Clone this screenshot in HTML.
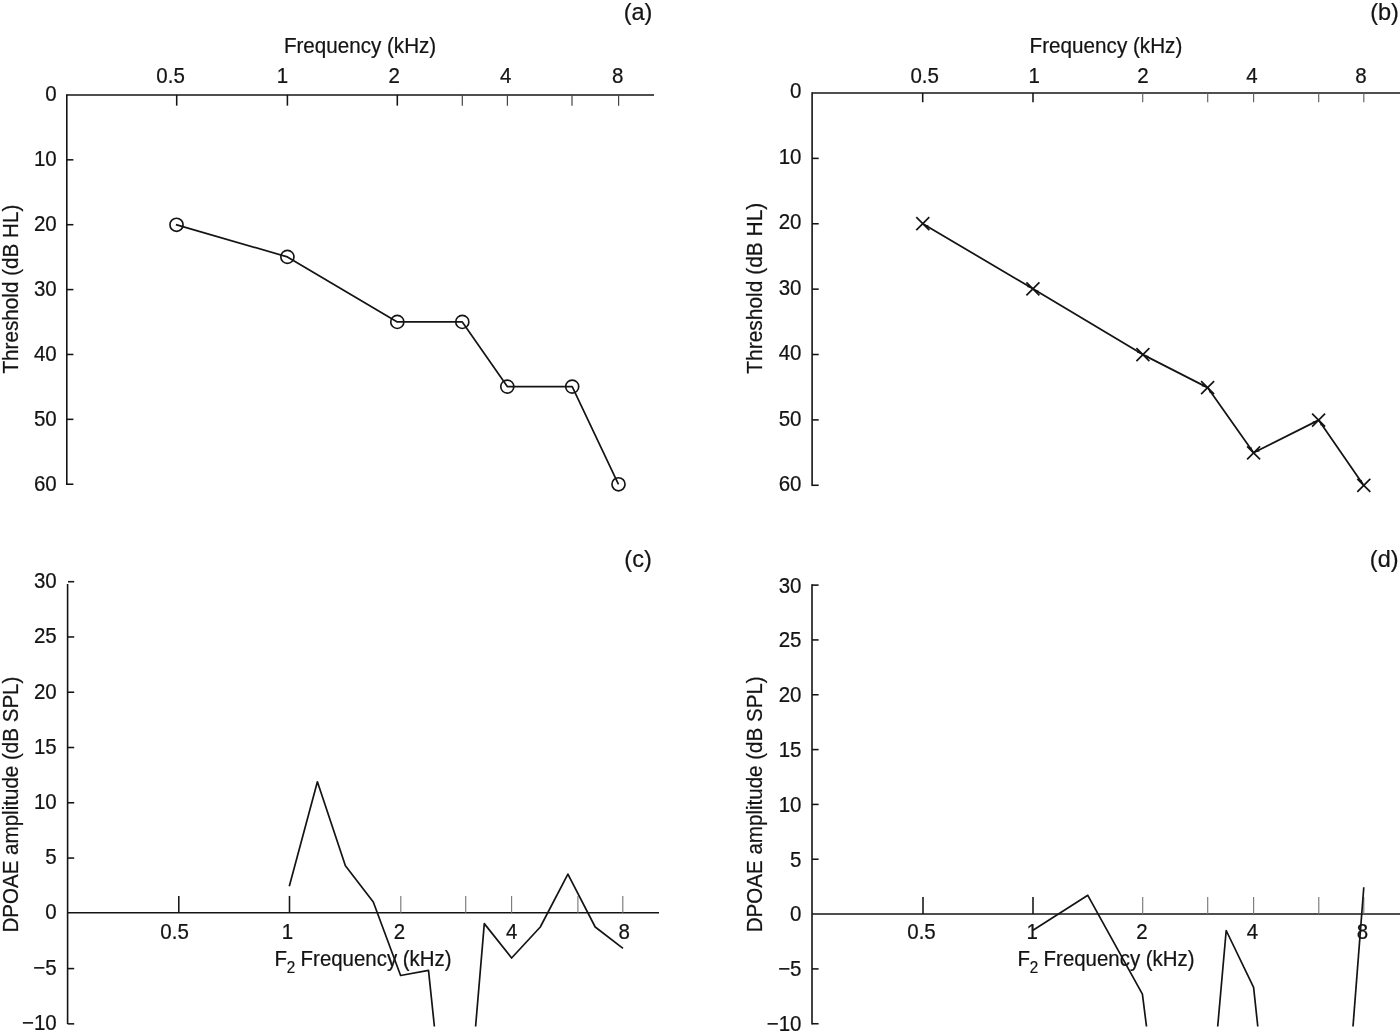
<!DOCTYPE html>
<html lang="en"><head><meta charset="utf-8"><title>Audiograms and DPOAE amplitude</title>
<style>
html,body{margin:0;padding:0;background:#fff;}
body{width:1400px;height:1036px;overflow:hidden;}
svg{display:block;}
svg text{font-family:"Liberation Sans",Arial,Helvetica,sans-serif;fill:#141414;stroke:#141414;stroke-width:0.22px;}
</style></head><body>
<svg width="1400" height="1036" viewBox="0 0 1400 1036">
<rect width="1400" height="1036" fill="#ffffff"/>
<line x1="66.8" y1="94.15" x2="66.8" y2="484.90000000000003" stroke="#141414" stroke-width="1.6" />
<line x1="66.8" y1="94.95" x2="654" y2="94.95" stroke="#141414" stroke-width="1.6" />
<line x1="176.7" y1="94.95" x2="176.7" y2="105.65" stroke="#141414" stroke-width="1.55" />
<line x1="287.4" y1="94.95" x2="287.4" y2="105.65" stroke="#141414" stroke-width="1.55" />
<line x1="397.3" y1="94.95" x2="397.3" y2="105.65" stroke="#141414" stroke-width="1.55" />
<line x1="462.3" y1="94.95" x2="462.3" y2="105.65" stroke="#444" stroke-width="1.2" />
<line x1="507.4" y1="94.95" x2="507.4" y2="105.65" stroke="#444" stroke-width="1.2" />
<line x1="572.0" y1="94.95" x2="572.0" y2="105.65" stroke="#444" stroke-width="1.2" />
<line x1="618.6" y1="94.95" x2="618.6" y2="105.65" stroke="#444" stroke-width="1.2" />
<line x1="66.8" y1="159.82999999999998" x2="73.39999999999999" y2="159.82999999999998" stroke="#141414" stroke-width="1.55" />
<line x1="66.8" y1="224.70999999999998" x2="73.39999999999999" y2="224.70999999999998" stroke="#141414" stroke-width="1.55" />
<line x1="66.8" y1="289.59" x2="73.39999999999999" y2="289.59" stroke="#141414" stroke-width="1.55" />
<line x1="66.8" y1="354.46999999999997" x2="73.39999999999999" y2="354.46999999999997" stroke="#141414" stroke-width="1.55" />
<line x1="66.8" y1="419.34999999999997" x2="73.39999999999999" y2="419.34999999999997" stroke="#141414" stroke-width="1.55" />
<line x1="66.8" y1="484.22999999999996" x2="73.39999999999999" y2="484.22999999999996" stroke="#141414" stroke-width="1.55" />
<text transform="translate(56.7 101.30000000000001) scale(1 1.05)" font-size="20.5" text-anchor="end" >0</text>
<text transform="translate(56.7 166.3) scale(1 1.05)" font-size="20.5" text-anchor="end" >10</text>
<text transform="translate(56.7 231.3) scale(1 1.05)" font-size="20.5" text-anchor="end" >20</text>
<text transform="translate(56.7 296.29999999999995) scale(1 1.05)" font-size="20.5" text-anchor="end" >30</text>
<text transform="translate(56.7 361.29999999999995) scale(1 1.05)" font-size="20.5" text-anchor="end" >40</text>
<text transform="translate(56.7 426.29999999999995) scale(1 1.05)" font-size="20.5" text-anchor="end" >50</text>
<text transform="translate(56.7 491.29999999999995) scale(1 1.05)" font-size="20.5" text-anchor="end" >60</text>
<text transform="translate(170.6 83.1) scale(1 1.05)" font-size="20.5" text-anchor="middle" >0.5</text>
<text transform="translate(282.4 83.1) scale(1 1.05)" font-size="20.5" text-anchor="middle" >1</text>
<text transform="translate(394.1 83.1) scale(1 1.05)" font-size="20.5" text-anchor="middle" >2</text>
<text transform="translate(505.7 83.1) scale(1 1.05)" font-size="20.5" text-anchor="middle" >4</text>
<text transform="translate(617.65 83.1) scale(1 1.05)" font-size="20.5" text-anchor="middle" >8</text>
<text transform="translate(283.9 52.6) scale(1 1.05)" font-size="20.5" text-anchor="start" textLength="152.3" lengthAdjust="spacingAndGlyphs">Frequency (kHz)</text>
<text transform="translate(638 20) scale(1 1.05)" font-size="23.5" text-anchor="middle" >(a)</text>
<text transform="translate(17.6 373.6) rotate(-90) scale(1 1.05)" font-size="20.5" textLength="169" lengthAdjust="spacingAndGlyphs">Threshold (dB HL)</text>
<polyline fill="none" stroke="#141414" stroke-width="1.7" stroke-linejoin="round" points="175.9,224.6 287.4,256.9 397.3,321.9 462.3,321.9 507.3,386.6 572.2,386.6 618.5,484.3"/>
<circle cx="176.5" cy="224.8" r="6.55" fill="none" stroke="#141414" stroke-width="1.65"/>
<circle cx="287.4" cy="256.9" r="6.55" fill="none" stroke="#141414" stroke-width="1.65"/>
<circle cx="397.3" cy="321.9" r="6.55" fill="none" stroke="#141414" stroke-width="1.65"/>
<circle cx="462.3" cy="321.9" r="6.55" fill="none" stroke="#141414" stroke-width="1.65"/>
<circle cx="507.3" cy="386.6" r="6.55" fill="none" stroke="#141414" stroke-width="1.65"/>
<circle cx="572.2" cy="386.6" r="6.55" fill="none" stroke="#141414" stroke-width="1.65"/>
<circle cx="618.5" cy="484.3" r="6.55" fill="none" stroke="#141414" stroke-width="1.65"/>
<line x1="812.1" y1="92.2" x2="812.1" y2="486.1" stroke="#141414" stroke-width="1.6" />
<line x1="812.1" y1="93.0" x2="1400" y2="93.0" stroke="#141414" stroke-width="1.6" />
<line x1="922.7" y1="93.0" x2="922.7" y2="102.2" stroke="#141414" stroke-width="1.55" />
<line x1="1033.0" y1="93.0" x2="1033.0" y2="102.2" stroke="#141414" stroke-width="1.55" />
<line x1="1142.7" y1="93.0" x2="1142.7" y2="102.2" stroke="#606060" stroke-width="1.15" />
<line x1="1207.7" y1="93.0" x2="1207.7" y2="102.2" stroke="#606060" stroke-width="1.15" />
<line x1="1253.6" y1="93.0" x2="1253.6" y2="102.2" stroke="#606060" stroke-width="1.15" />
<line x1="1318.7" y1="93.0" x2="1318.7" y2="102.2" stroke="#606060" stroke-width="1.15" />
<line x1="1363.8" y1="93.0" x2="1363.8" y2="102.2" stroke="#606060" stroke-width="1.15" />
<line x1="812.1" y1="158.38" x2="818.7" y2="158.38" stroke="#141414" stroke-width="1.55" />
<line x1="812.1" y1="223.76" x2="818.7" y2="223.76" stroke="#141414" stroke-width="1.55" />
<line x1="812.1" y1="289.14" x2="818.7" y2="289.14" stroke="#141414" stroke-width="1.55" />
<line x1="812.1" y1="354.52" x2="818.7" y2="354.52" stroke="#141414" stroke-width="1.55" />
<line x1="812.1" y1="419.9" x2="818.7" y2="419.9" stroke="#141414" stroke-width="1.55" />
<line x1="812.1" y1="485.28" x2="818.7" y2="485.28" stroke="#141414" stroke-width="1.55" />
<text transform="translate(801.5 98.10000000000001) scale(1 1.05)" font-size="20.5" text-anchor="end" >0</text>
<text transform="translate(801.5 163.65) scale(1 1.05)" font-size="20.5" text-anchor="end" >10</text>
<text transform="translate(801.5 229.20000000000002) scale(1 1.05)" font-size="20.5" text-anchor="end" >20</text>
<text transform="translate(801.5 294.74999999999994) scale(1 1.05)" font-size="20.5" text-anchor="end" >30</text>
<text transform="translate(801.5 360.29999999999995) scale(1 1.05)" font-size="20.5" text-anchor="end" >40</text>
<text transform="translate(801.5 425.84999999999997) scale(1 1.05)" font-size="20.5" text-anchor="end" >50</text>
<text transform="translate(801.5 491.3999999999999) scale(1 1.05)" font-size="20.5" text-anchor="end" >60</text>
<text transform="translate(924.7 83.1) scale(1 1.05)" font-size="20.5" text-anchor="middle" >0.5</text>
<text transform="translate(1034.2 83.1) scale(1 1.05)" font-size="20.5" text-anchor="middle" >1</text>
<text transform="translate(1142.95 83.1) scale(1 1.05)" font-size="20.5" text-anchor="middle" >2</text>
<text transform="translate(1251.85 83.1) scale(1 1.05)" font-size="20.5" text-anchor="middle" >4</text>
<text transform="translate(1360.9 83.1) scale(1 1.05)" font-size="20.5" text-anchor="middle" >8</text>
<text transform="translate(1029.6 52.6) scale(1 1.05)" font-size="20.5" text-anchor="start" textLength="152.7" lengthAdjust="spacingAndGlyphs">Frequency (kHz)</text>
<text transform="translate(1384.5 20) scale(1 1.05)" font-size="23.5" text-anchor="middle" >(b)</text>
<text transform="translate(762.1 373.7) rotate(-90) scale(1 1.05)" font-size="20.5" textLength="171" lengthAdjust="spacingAndGlyphs">Threshold (dB HL)</text>
<polyline fill="none" stroke="#141414" stroke-width="1.75" stroke-linejoin="round" points="922.8,223.7 1032.9,288.8 1142.9,354.6 1207.6,387.6 1253.6,452.8 1318.6,420.1 1363.8,485.4"/>
<polygon fill="#141414" points="923.66,224.21 927.23,228.00 928.70,225.51"/>
<polygon fill="#141414" points="1032.04,288.29 1027.00,286.99 1028.47,284.50"/>
<polygon fill="#141414" points="1033.76,289.31 1037.30,293.12 1038.79,290.64"/>
<polygon fill="#141414" points="1142.04,354.09 1137.01,352.76 1138.50,350.28"/>
<polygon fill="#141414" points="1143.79,355.05 1147.59,358.62 1148.90,356.03"/>
<polygon fill="#141414" points="1206.71,387.15 1201.60,386.17 1202.91,383.58"/>
<polygon fill="#141414" points="1208.18,388.42 1209.87,393.34 1212.24,391.67"/>
<polygon fill="#141414" points="1253.02,451.98 1248.96,448.73 1251.33,447.06"/>
<polygon fill="#141414" points="1254.49,452.35 1259.61,451.40 1258.31,448.81"/>
<polygon fill="#141414" points="1317.71,420.55 1313.89,424.09 1312.59,421.50"/>
<polygon fill="#141414" points="1319.17,420.92 1320.82,425.86 1323.21,424.21"/>
<polygon fill="#141414" points="1363.23,484.58 1359.19,481.29 1361.58,479.64"/>
<line x1="916.3" y1="217.2" x2="929.3" y2="230.2" stroke="#141414" stroke-width="1.7" />
<line x1="916.3" y1="230.2" x2="929.3" y2="217.2" stroke="#141414" stroke-width="1.7" />
<line x1="1026.4" y1="282.3" x2="1039.4" y2="295.3" stroke="#141414" stroke-width="1.7" />
<line x1="1026.4" y1="295.3" x2="1039.4" y2="282.3" stroke="#141414" stroke-width="1.7" />
<line x1="1136.4" y1="348.1" x2="1149.4" y2="361.1" stroke="#141414" stroke-width="1.7" />
<line x1="1136.4" y1="361.1" x2="1149.4" y2="348.1" stroke="#141414" stroke-width="1.7" />
<line x1="1201.1" y1="381.1" x2="1214.1" y2="394.1" stroke="#141414" stroke-width="1.7" />
<line x1="1201.1" y1="394.1" x2="1214.1" y2="381.1" stroke="#141414" stroke-width="1.7" />
<line x1="1247.1" y1="446.3" x2="1260.1" y2="459.3" stroke="#141414" stroke-width="1.7" />
<line x1="1247.1" y1="459.3" x2="1260.1" y2="446.3" stroke="#141414" stroke-width="1.7" />
<line x1="1312.1" y1="413.6" x2="1325.1" y2="426.6" stroke="#141414" stroke-width="1.7" />
<line x1="1312.1" y1="426.6" x2="1325.1" y2="413.6" stroke="#141414" stroke-width="1.7" />
<line x1="1357.3" y1="478.9" x2="1370.3" y2="491.9" stroke="#141414" stroke-width="1.7" />
<line x1="1357.3" y1="491.9" x2="1370.3" y2="478.9" stroke="#141414" stroke-width="1.7" />
<line x1="67.6" y1="584.0" x2="67.6" y2="1024.1" stroke="#141414" stroke-width="1.6" />
<line x1="68.0" y1="581.7" x2="74.2" y2="581.7" stroke="#141414" stroke-width="1.55" />
<line x1="67.6" y1="636.97" x2="74.19999999999999" y2="636.97" stroke="#141414" stroke-width="1.55" />
<line x1="67.6" y1="692.24" x2="74.19999999999999" y2="692.24" stroke="#141414" stroke-width="1.55" />
<line x1="67.6" y1="747.51" x2="74.19999999999999" y2="747.51" stroke="#141414" stroke-width="1.55" />
<line x1="67.6" y1="802.7800000000001" x2="74.19999999999999" y2="802.7800000000001" stroke="#141414" stroke-width="1.55" />
<line x1="67.6" y1="858.0500000000001" x2="74.19999999999999" y2="858.0500000000001" stroke="#141414" stroke-width="1.55" />
<line x1="67.6" y1="968.5900000000001" x2="74.19999999999999" y2="968.5900000000001" stroke="#141414" stroke-width="1.55" />
<line x1="67.6" y1="1023.8600000000001" x2="74.19999999999999" y2="1023.8600000000001" stroke="#141414" stroke-width="1.55" />
<line x1="67.6" y1="912.8" x2="659" y2="912.8" stroke="#141414" stroke-width="1.6" />
<line x1="178.8" y1="912.8" x2="178.8" y2="895.9" stroke="#141414" stroke-width="1.55" />
<line x1="289.5" y1="912.8" x2="289.5" y2="895.9" stroke="#141414" stroke-width="1.55" />
<line x1="400.8" y1="912.8" x2="400.8" y2="895.9" stroke="#7a7a7a" stroke-width="1.15" />
<line x1="465.7" y1="912.8" x2="465.7" y2="895.9" stroke="#7a7a7a" stroke-width="1.15" />
<line x1="511.6" y1="912.8" x2="511.6" y2="895.9" stroke="#7a7a7a" stroke-width="1.15" />
<line x1="577.9" y1="912.8" x2="577.9" y2="895.9" stroke="#7a7a7a" stroke-width="1.15" />
<line x1="622.8" y1="912.8" x2="622.8" y2="895.9" stroke="#7a7a7a" stroke-width="1.15" />
<text transform="translate(56.7 588.1) scale(1 1.05)" font-size="20.5" text-anchor="end" >30</text>
<text transform="translate(56.7 643.3000000000001) scale(1 1.05)" font-size="20.5" text-anchor="end" >25</text>
<text transform="translate(56.7 698.5) scale(1 1.05)" font-size="20.5" text-anchor="end" >20</text>
<text transform="translate(56.7 753.7) scale(1 1.05)" font-size="20.5" text-anchor="end" >15</text>
<text transform="translate(56.7 808.9) scale(1 1.05)" font-size="20.5" text-anchor="end" >10</text>
<text transform="translate(56.7 864.1) scale(1 1.05)" font-size="20.5" text-anchor="end" >5</text>
<text transform="translate(56.7 919.3000000000001) scale(1 1.05)" font-size="20.5" text-anchor="end" >0</text>
<text transform="translate(56.7 974.5000000000001) scale(1 1.05)" font-size="20.5" text-anchor="end" >−5</text>
<text transform="translate(56.7 1029.7) scale(1 1.05)" font-size="20.5" text-anchor="end" >−10</text>
<text transform="translate(174.6 939.1) scale(1 1.05)" font-size="20.5" text-anchor="middle" >0.5</text>
<text transform="translate(287.35 939.1) scale(1 1.05)" font-size="20.5" text-anchor="middle" >1</text>
<text transform="translate(399.5 939.1) scale(1 1.05)" font-size="20.5" text-anchor="middle" >2</text>
<text transform="translate(511.75 939.1) scale(1 1.05)" font-size="20.5" text-anchor="middle" >4</text>
<text transform="translate(624.3 939.1) scale(1 1.05)" font-size="20.5" text-anchor="middle" >8</text>
<text transform="translate(274.6 966.1) scale(1 1.05)" font-size="20.5" text-anchor="start" >F</text>
<text transform="translate(286.8 973.0) scale(1 1.05)" font-size="15.2" text-anchor="start" >2</text>
<text transform="translate(300.6 966.1) scale(1 1.05)" font-size="20.5" text-anchor="start" textLength="151" lengthAdjust="spacingAndGlyphs">Frequency (kHz)</text>
<text transform="translate(638 567.3) scale(1 1.05)" font-size="23.5" text-anchor="middle" >(c)</text>
<text transform="translate(17.6 932.6) rotate(-90) scale(1 1.05)" font-size="20.5" textLength="256" lengthAdjust="spacingAndGlyphs">DPOAE amplitude (dB SPL)</text>
<polyline fill="none" stroke="#141414" stroke-width="1.7" stroke-linejoin="round" points="289.3,886.3 317.4,781.8 345.4,865.7 373.3,902.0 400.6,975.5 428.5,970.3 434.4,1026.5"/>
<polyline fill="none" stroke="#141414" stroke-width="1.7" stroke-linejoin="round" points="475.6,1026.5 484.3,923.6 511.6,958.0 540.3,927.0 567.9,874.1 595.2,927.0 623.0,948.3"/>
<line x1="812.0" y1="584.3000000000001" x2="812.0" y2="1024.55" stroke="#141414" stroke-width="1.6" />
<line x1="812.0" y1="585.1" x2="818.6" y2="585.1" stroke="#141414" stroke-width="1.55" />
<line x1="812.0" y1="639.9300000000001" x2="818.6" y2="639.9300000000001" stroke="#141414" stroke-width="1.55" />
<line x1="812.0" y1="694.76" x2="818.6" y2="694.76" stroke="#141414" stroke-width="1.55" />
<line x1="812.0" y1="749.59" x2="818.6" y2="749.59" stroke="#141414" stroke-width="1.55" />
<line x1="812.0" y1="804.4200000000001" x2="818.6" y2="804.4200000000001" stroke="#141414" stroke-width="1.55" />
<line x1="812.0" y1="859.25" x2="818.6" y2="859.25" stroke="#141414" stroke-width="1.55" />
<line x1="812.0" y1="968.9100000000001" x2="818.6" y2="968.9100000000001" stroke="#141414" stroke-width="1.55" />
<line x1="812.0" y1="1023.74" x2="818.6" y2="1023.74" stroke="#141414" stroke-width="1.55" />
<line x1="812.0" y1="914.0" x2="1400" y2="914.0" stroke="#141414" stroke-width="1.6" />
<line x1="923.0" y1="914.0" x2="923.0" y2="897.0" stroke="#141414" stroke-width="1.55" />
<line x1="1033.0" y1="914.0" x2="1033.0" y2="897.0" stroke="#141414" stroke-width="1.55" />
<line x1="1142.7" y1="914.0" x2="1142.7" y2="897.0" stroke="#7a7a7a" stroke-width="1.15" />
<line x1="1207.7" y1="914.0" x2="1207.7" y2="897.0" stroke="#7a7a7a" stroke-width="1.15" />
<line x1="1253.6" y1="914.0" x2="1253.6" y2="897.0" stroke="#7a7a7a" stroke-width="1.15" />
<line x1="1318.8" y1="914.0" x2="1318.8" y2="897.0" stroke="#7a7a7a" stroke-width="1.15" />
<line x1="1363.8" y1="914.0" x2="1363.8" y2="897.0" stroke="#7a7a7a" stroke-width="1.15" />
<text transform="translate(801.5 592.5) scale(1 1.05)" font-size="20.5" text-anchor="end" >30</text>
<text transform="translate(801.5 647.3) scale(1 1.05)" font-size="20.5" text-anchor="end" >25</text>
<text transform="translate(801.5 702.1) scale(1 1.05)" font-size="20.5" text-anchor="end" >20</text>
<text transform="translate(801.5 756.9) scale(1 1.05)" font-size="20.5" text-anchor="end" >15</text>
<text transform="translate(801.5 811.6999999999999) scale(1 1.05)" font-size="20.5" text-anchor="end" >10</text>
<text transform="translate(801.5 866.5) scale(1 1.05)" font-size="20.5" text-anchor="end" >5</text>
<text transform="translate(801.5 921.3) scale(1 1.05)" font-size="20.5" text-anchor="end" >0</text>
<text transform="translate(801.5 976.1) scale(1 1.05)" font-size="20.5" text-anchor="end" >−5</text>
<text transform="translate(801.5 1030.9) scale(1 1.05)" font-size="20.5" text-anchor="end" >−10</text>
<text transform="translate(921.5 939.1) scale(1 1.05)" font-size="20.5" text-anchor="middle" >0.5</text>
<text transform="translate(1032.1 939.1) scale(1 1.05)" font-size="20.5" text-anchor="middle" >1</text>
<text transform="translate(1141.9 939.1) scale(1 1.05)" font-size="20.5" text-anchor="middle" >2</text>
<text transform="translate(1252.35 939.1) scale(1 1.05)" font-size="20.5" text-anchor="middle" >4</text>
<text transform="translate(1362.45 939.1) scale(1 1.05)" font-size="20.5" text-anchor="middle" >8</text>
<text transform="translate(1017.6 966.1) scale(1 1.05)" font-size="20.5" text-anchor="start" >F</text>
<text transform="translate(1029.8 973.0) scale(1 1.05)" font-size="15.2" text-anchor="start" >2</text>
<text transform="translate(1043.6 966.1) scale(1 1.05)" font-size="20.5" text-anchor="start" textLength="151" lengthAdjust="spacingAndGlyphs">Frequency (kHz)</text>
<text transform="translate(1384.2 567.1) scale(1 1.05)" font-size="23.5" text-anchor="middle" >(d)</text>
<text transform="translate(762.3 932.3) rotate(-90) scale(1 1.05)" font-size="20.5" textLength="256" lengthAdjust="spacingAndGlyphs">DPOAE amplitude (dB SPL)</text>
<polyline fill="none" stroke="#141414" stroke-width="1.7" stroke-linejoin="round" points="1033.0,930.2 1087.8,895.3 1142.4,994.2 1146.5,1026.5"/>
<polyline fill="none" stroke="#141414" stroke-width="1.7" stroke-linejoin="round" points="1217.7,1026.5 1226.2,930.5 1253.6,987.4 1257.8,1026.5"/>
<polyline fill="none" stroke="#141414" stroke-width="1.7" stroke-linejoin="round" points="1353.0,1026.5 1363.8,887.2"/>
</svg>
</body></html>
